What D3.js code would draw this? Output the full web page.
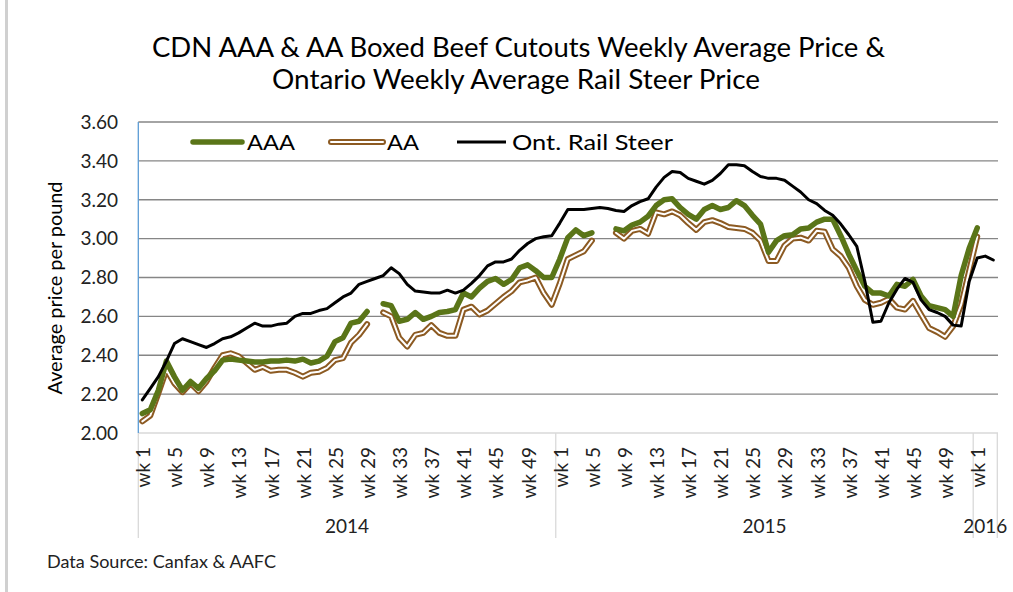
<!DOCTYPE html>
<html><head><meta charset="utf-8">
<script src="https://cdn.jsdelivr.net/npm/d3@7"></script>
<style>body{margin:0;background:#fff}svg{display:block}text{font-family:Lato,"Open Sans",sans-serif}</style>
</head><body>
<svg id="c" width="1013" height="592"></svg>
<script>
const years = ["2014", "2015", "2016"];
const weeksPerYear = [52, 52, 3];
const yTicks = [2.0, 2.2, 2.4, 2.6, 2.8, 3.0, 3.2, 3.4, 3.6];
const seriesNames = ["AAA", "AA", "Ont. Rail Steer"];

const aaa = [
 2.10,2.12,2.22,2.37,2.29,2.22,2.265,2.23,2.28,2.32,2.375,2.38,2.375,2.37,2.365,2.365,2.37,2.37,2.375,2.37,
 2.38,2.36,2.37,2.395,2.47,2.49,2.565,2.575,2.625,null,2.665,2.655,2.575,2.585,2.62,2.585,
 2.60,2.62,2.625,2.635,2.72,2.70,2.745,2.78,2.795,2.765,2.79,2.85,2.865,2.835,2.80,2.80,
 2.895,3.005,3.045,3.015,3.03,null,null,3.05,3.04,3.07,3.085,3.115,3.17,3.20,3.205,3.16,3.125,3.10,
 3.15,3.17,3.15,3.16,3.195,3.17,3.12,3.075,2.93,2.99,3.015,3.02,3.05,3.055,3.085,3.10,3.10,3.015,
 2.92,2.835,2.755,2.72,2.72,2.705,2.765,2.755,2.79,2.705,2.655,2.645,2.635,2.60,2.81,2.95,
 3.055,null,null
];
const aa = [
 2.06,2.09,2.205,2.325,2.255,2.21,2.255,2.215,2.265,2.335,2.40,2.41,2.395,2.36,2.325,2.34,2.32,2.325,2.325,2.31,
 2.29,2.31,2.315,2.335,2.375,2.385,2.465,2.505,2.56,null,2.62,2.60,2.49,2.445,2.505,2.515,
 2.555,2.515,2.50,2.50,2.635,2.65,2.61,2.63,2.665,2.70,2.73,2.775,2.785,2.80,2.72,2.66,
 2.77,2.895,2.915,2.935,2.99,null,null,3.03,3.00,3.04,3.05,3.025,3.135,3.125,3.14,3.12,3.08,3.045,
 3.085,3.095,3.08,3.06,3.055,3.05,3.03,2.99,2.885,2.885,2.965,3.00,3.005,2.99,3.04,3.035,2.945,2.91,
 2.85,2.755,2.685,2.66,2.67,2.69,2.645,2.635,2.68,2.61,2.54,2.52,2.495,2.55,2.66,2.835,
 3.01,null,null
];
const ont = [
 2.17,2.23,2.29,2.37,2.46,2.485,2.47,2.455,2.44,2.46,2.485,2.495,2.515,2.54,2.565,2.55,2.55,2.56,2.565,2.60,
 2.615,2.615,2.63,2.64,2.67,2.70,2.72,2.765,2.78,2.795,2.81,2.85,2.82,2.765,2.73,2.725,
 2.72,2.72,2.735,2.72,2.735,2.77,2.81,2.86,2.88,2.88,2.895,2.94,2.975,3.00,3.01,3.015,
 3.08,3.15,3.15,3.15,3.155,3.16,3.155,3.145,3.14,3.17,3.19,3.205,3.265,3.315,3.345,3.34,3.31,3.295,
 3.28,3.30,3.335,3.38,3.38,3.375,3.345,3.32,3.31,3.31,3.30,3.27,3.24,3.20,3.18,3.145,3.12,3.075,
 3.02,2.96,2.78,2.57,2.575,2.67,2.74,2.795,2.775,2.685,2.635,2.62,2.60,2.555,2.55,2.78,
 2.90,2.91,2.89
];

// categories
const categories = [];
years.forEach((yr, k) => {
  for (let w = 1; w <= weeksPerYear[k]; w++) categories.push({year: yr, week: w, label: "wk " + w});
});

const svg = d3.select("#c");
const L = 138.3, R = 997.3, T = 122, B = 433;
const x = d3.scaleBand().domain(d3.range(categories.length)).range([L, R]);
const y = d3.scaleLinear().domain([2.0, 3.6]).range([B, T]);
const cx = i => x(i) + x.bandwidth() / 2;

svg.append("rect").attr("width", 1013).attr("height", 592).attr("fill", "#fff");
// outer left border
svg.append("line").attr("x1", 6.5).attr("x2", 6.5).attr("y1", 0).attr("y2", 592)
  .attr("stroke", "#d0d0d0").attr("stroke-width", 3);

// title
const title = svg.append("g").attr("font-size", 27).attr("fill", "#000").attr("text-anchor", "middle");
title.append("text").attr("x", 518.5).attr("y", 57).attr("textLength", 733).attr("lengthAdjust", "spacingAndGlyphs")
  .text("CDN AAA & AA Boxed Beef Cutouts Weekly Average Price &");
title.append("text").attr("x", 516).attr("y", 89).attr("textLength", 488).attr("lengthAdjust", "spacingAndGlyphs")
  .text("Ontario Weekly Average Rail Steer Price");

// gridlines
svg.append("g").selectAll("line").data(yTicks.filter(t => t > 2.0)).join("line")
  .attr("x1", L).attr("x2", R + 0.7).attr("y1", d => y(d)).attr("y2", d => y(d))
  .attr("stroke", "#868686").attr("stroke-width", 1.3);

// y tick labels
svg.append("g").attr("font-size", 19).attr("fill", "#222").attr("text-anchor", "end")
  .selectAll("text").data(yTicks).join("text")
  .attr("x", 118).attr("y", d => y(d)).attr("dy", "0.36em").text(d => d.toFixed(2));

// y axis title
svg.append("text").attr("transform", "translate(62,288) rotate(-90)").attr("text-anchor", "middle")
  .attr("font-size", 20).attr("textLength", 213).attr("lengthAdjust", "spacingAndGlyphs")
  .text("Average price per pound");

// x axis line and separators
svg.append("line").attr("x1", L).attr("x2", R + 0.7).attr("y1", B).attr("y2", B).attr("stroke", "#d9d9d9").attr("stroke-width", 1.3);
const yearStarts = [];
let acc = 0;
weeksPerYear.forEach(n => { yearStarts.push(acc); acc += n; });
const seps = yearStarts.map(i => x(i)).concat([R]);
svg.append("g").selectAll("line").data(seps).join("line")
  .attr("x1", d => d).attr("x2", d => d).attr("y1", B).attr("y2", 538)
  .attr("stroke", "#d9d9d9").attr("stroke-width", 1.3);
// left axis line
svg.append("line").attr("x1", L).attr("x2", L).attr("y1", T).attr("y2", B).attr("stroke", "#5b9bd5").attr("stroke-width", 1.3);

// x tick labels
svg.append("g").attr("font-size", 19).attr("fill", "#222").attr("text-anchor", "end")
  .selectAll("text").data(categories.map((d, i) => ({...d, i})).filter(d => d.week % 4 === 1)).join("text")
  .attr("transform", d => `translate(${cx(d.i) + 1},447) rotate(-90)`).attr("dy", "0.36em").text(d => d.label);

// year labels
svg.append("g").attr("font-size", 19).attr("fill", "#222").attr("text-anchor", "middle")
  .selectAll("text").data(years).join("text")
  .attr("x", (d, k) => (seps[k] + seps[k + 1]) / 2).attr("y", 533).text(d => d);

// source
svg.append("text").attr("x", 47).attr("y", 568).attr("font-size", 17).attr("fill", "#222")
  .attr("textLength", 229).attr("lengthAdjust", "spacingAndGlyphs").text("Data Source: Canfax & AAFC");

// lines
const line = d3.line().defined(d => d != null).x((d, i) => cx(i)).y(d => y(d));
const GREEN = "#5a7518", BROWN = "#8c5a22";
const plot = svg.append("g").attr("fill", "none").attr("stroke-linejoin", "round").attr("stroke-linecap", "round");
plot.append("path").attr("d", line(aa)).attr("stroke", BROWN).attr("stroke-width", 6);
plot.append("path").attr("d", line(aa)).attr("stroke", "#fff").attr("stroke-width", 2);
plot.append("path").attr("d", line(aaa)).attr("stroke", GREEN).attr("stroke-width", 5.5);
plot.append("path").attr("d", line(ont)).attr("stroke", "#000").attr("stroke-width", 3);

// legend
const lg = svg.append("g").attr("stroke-linecap", "round");
const ly = 142;
lg.append("line").attr("x1", 193).attr("x2", 242).attr("y1", ly).attr("y2", ly).attr("stroke", GREEN).attr("stroke-width", 5.5);
lg.append("line").attr("x1", 331).attr("x2", 383).attr("y1", ly).attr("y2", ly).attr("stroke", BROWN).attr("stroke-width", 6);
lg.append("line").attr("x1", 331).attr("x2", 383).attr("y1", ly).attr("y2", ly).attr("stroke", "#fff").attr("stroke-width", 2);
lg.append("line").attr("x1", 457).attr("x2", 506).attr("y1", ly).attr("y2", ly).attr("stroke", "#000").attr("stroke-width", 3).attr("stroke-linecap", "butt");
const lt = svg.append("g").attr("font-size", 22).attr("fill", "#000");
lt.append("text").attr("x", 247).attr("y", 149.5).attr("textLength", 48).attr("lengthAdjust", "spacingAndGlyphs").text(seriesNames[0]);
lt.append("text").attr("x", 387).attr("y", 149.5).attr("textLength", 32).attr("lengthAdjust", "spacingAndGlyphs").text(seriesNames[1]);
lt.append("text").attr("x", 512).attr("y", 149.5).attr("textLength", 161).attr("lengthAdjust", "spacingAndGlyphs").text(seriesNames[2]);
</script>
</body></html>
